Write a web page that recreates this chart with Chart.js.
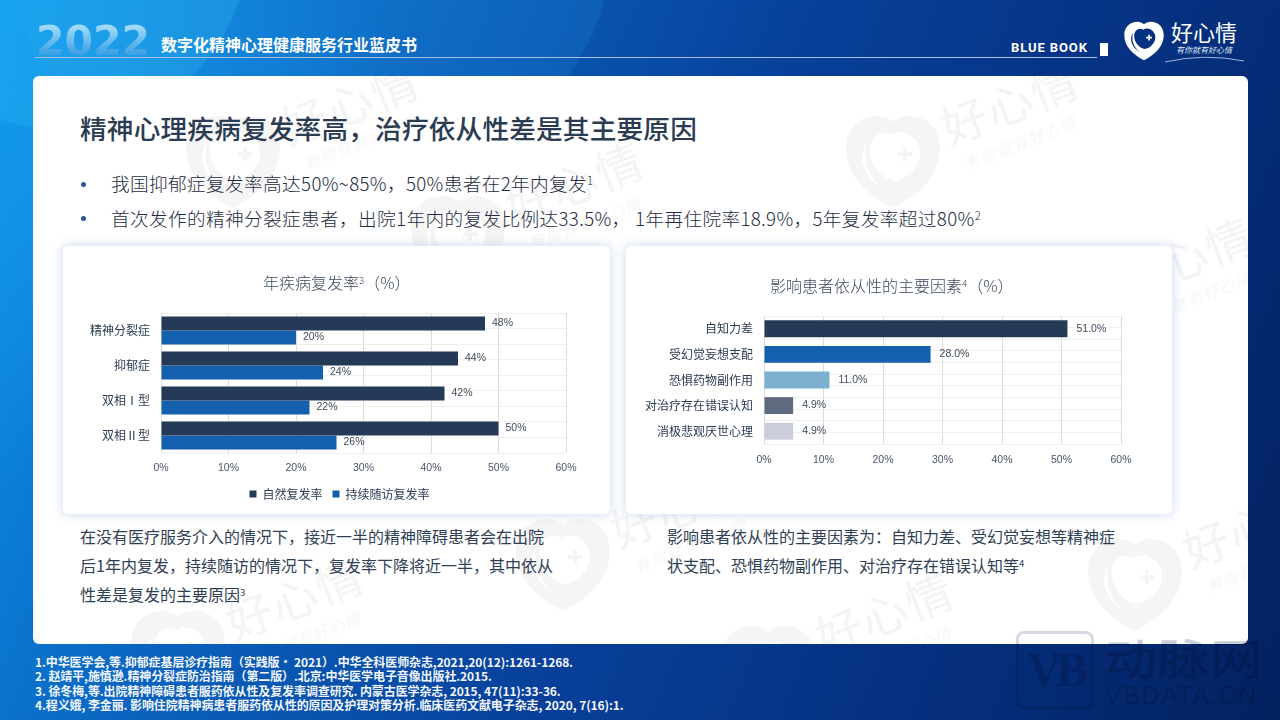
<!DOCTYPE html>
<html lang="zh-CN">

<head>
    <meta charset="UTF-8">
    <title>精神心理疾病复发率高，治疗依从性差是其主要原因</title>
    <style>
        /* page */
        html, body {
            margin: 0;
            padding: 0;
        }

        body {
            position: relative;
            width: 1280px;
            height: 720px;
            overflow: hidden;
            font-family: "Noto Sans CJK SC", sans-serif;
            color: #2b3b52;
            background:
                radial-gradient(circle 190px at 60px -60px, rgba(60, 200, 250, .22) 99%, rgba(60, 200, 250, 0) 100%),
                radial-gradient(ellipse 300px 230px at 310px -40px, rgba(40, 160, 235, .16) 99%, rgba(40, 160, 235, 0) 100%),
                radial-gradient(ellipse 420px 300px at 40px 190px, rgba(30, 160, 235, .4), rgba(30, 160, 235, 0) 100%),
                linear-gradient(112deg, #0c98ee 0%, #0a62bd 27%, #07409a 52%, #05307f 76%, #03215f 100%);
        }

        .abs {
            position: absolute;
            white-space: nowrap;
        }

        sup {
            font-size: 60%;
            line-height: 0;
            vertical-align: baseline;
            position: relative;
            top: -0.5em;
        }

        .year {
            left: 36px;
            top: 16px;
            font: bold 41px/50px "DejaVu Sans", sans-serif;
            background: linear-gradient(180deg, #a3dcf8 20%, #5fb6ec 55%, #2f96e0 85%);
            -webkit-background-clip: text;
            background-clip: text;
            color: transparent;
        }

        .subtitle {
            left: 161px;
            top: 32px;
            font-size: 16px;
            line-height: 24px;
            font-weight: 700;
            color: #fff;
        }

        .rule {
            left: 35px;
            top: 57px;
            width: 1062px;
            height: 1px;
            background: #a9bfdc;
        }

        .bluebook {
            left: 1011px;
            top: 39px;
            font: bold 13px/18px "Roboto", sans-serif;
            letter-spacing: 0.9px;
            color: #fff;
        }

        .mark {
            left: 1100px;
            top: 43px;
            width: 8px;
            height: 13px;
            background: #fff;
        }

        .logo-text {
            left: 1171px;
            top: 16px;
            font-size: 22px;
            line-height: 30px;
            font-weight: 400;
            color: #fff;
        }

        .logo-sub {
            left: 1176px;
            top: 44px;
            font-size: 8px;
            line-height: 12px;
            font-style: italic;
            color: #dfe8f5;
        }

        /* white panel */
        .panel {
            left: 33px;
            top: 76px;
            width: 1215px;
            height: 568px;
            border-radius: 6px;
            background: #fff;
            overflow: hidden;
        }

        .wm {
            position: absolute;
            width: 260px;
            height: 110px;
            transform: rotate(-21deg);
            transform-origin: 50px 55px;
            color: #f4f4f4;
            white-space: nowrap;
        }

        .wm svg {
            position: absolute;
            left: 0;
            top: 5px;
            width: 100px;
            height: 100px;
            fill: #f5f5f5;
            transform: rotate(21deg);
        }

        .wm b {
            position: absolute;
            left: 108px;
            top: 8px;
            font-size: 46px;
            line-height: 64px;
            font-weight: 400;
            letter-spacing: 2px;
        }

        .wm i {
            position: absolute;
            left: 116px;
            top: 70px;
            font-size: 16px;
            line-height: 24px;
            letter-spacing: 1px;
            color: #f7f7f7;
        }

        .heading {
            left: 80px;
            top: 108px;
            font-size: 26.67px;
            line-height: 40px;
            font-weight: 500;
            letter-spacing: 0.17px;
            color: #2b3b52;
        }

        .bullet {
            font-size: 18.67px;
            line-height: 28px;
            font-weight: 300;
            letter-spacing: 0.35px;
            color: #1e2d42;
        }

        .dot {
            width: 5px;
            height: 5px;
            left: 81px;
            border-radius: 50%;
            background: #2f5597;
        }

        .card {
            position: absolute;
            top: 246px;
            height: 268px;
            border-radius: 6px;
            background: #fff;
            box-shadow: 0 0 8px 3px rgba(150, 175, 225, .3);
        }

        .chart-title {
            position: absolute;
            font-size: 16px;
            line-height: 22px;
            font-weight: 300;
            white-space: nowrap;
            color: #3c4a5e;
        }

        .note {
            font-size: 16px;
            line-height: 29px;
            font-weight: 400;
            color: #2f3f55;
        }

        .refs {
            left: 35px;
            top: 654.5px;
            font-size: 12px;
            line-height: 14.5px;
            font-weight: 700;
            letter-spacing: -0.1px;
            color: #f2f6fc;
        }

        /* corner stamp, darkens both the panel and the blue behind it */
        .vb, .vb-cn, .vb-en {
            mix-blend-mode: multiply;
            color: #c9ced8;
        }

        .vb {
            left: 1016px;
            top: 631px;
            width: 78px;
            height: 78px;
            box-sizing: border-box;
            border: 3px solid #d6dae2;
            border-radius: 8px;
            font: bold 48px/72px "Liberation Serif", serif;
            letter-spacing: -5px;
            text-align: center;
        }

        .vb-cn {
            left: 1104px;
            top: 626px;
            font-size: 53px;
            line-height: 62px;
            font-weight: 500;
            transform: scaleY(.8);
            transform-origin: 0 50%;
        }

        .vb-en {
            left: 1105px;
            top: 680px;
            font: 25px/30px "Liberation Sans", sans-serif;
            letter-spacing: 1.5px;
        }
    </style>
</head>

<body>
    <svg width="0" height="0" style="position:absolute">
        <symbol id="heart" viewBox="0 0 100 100">
            <path fill-rule="evenodd" d="M50 96C22 82 3 62 3 36 3 16 18 4 34 4c7 0 12 2 16 6 4-4 10-6 17-6 16 0 30 12 30 32 0 26-19 46-47 60zM24 30c-11 16-2 36 16 47C22 62 20 44 24 30zM48 23C40 17 24 24 27 42c2 14 14 25 24 27 14-2 27-15 26-30-1-14-18-24-29-16zM60 35h4v5h5v4h-5v5h-4v-5h-5v-4h5z" />
        </symbol>
    </svg>

    <div class="abs year">2022</div>
    <div class="abs subtitle">数字化精神心理健康服务行业蓝皮书</div>
    <div class="abs rule"></div>
    <div class="abs bluebook">BLUE BOOK</div>
    <div class="abs mark"></div>
    <svg class="abs" style="left:1122px;top:20px;fill:#fff" width="44" height="42">
        <use href="#heart" width="44" height="42"></use>
    </svg>
    <div class="abs logo-text">好心情</div>
    <div class="abs logo-sub">有你就有好心情</div>
    <svg class="abs" style="left:1164px;top:54px" width="82" height="10">
        <path d="M1 8Q40 -1 80 7" fill="none" stroke="#9fb6d8" stroke-width="1" />
    </svg>

    <div class="abs panel" id="panel"></div>

    <div class="abs heading">精神心理疾病复发率高，治疗依从性差是其主要原因</div>
    <div class="abs dot" style="top:182px"></div>
    <div class="abs bullet" style="left:111px;top:169px">我国抑郁症复发率高达50%~85%，50%患者在2年内复发<sup>1</sup></div>
    <div class="abs dot" style="top:216px"></div>
    <div class="abs bullet" style="left:111px;top:204px">首次发作的精神分裂症患者，出院1年内的复发比例达33.5%， 1年再住院率18.9%，5年复发率超过80%<sup>2</sup></div>

    <div class="card" style="left:63px;width:547px">
        <canvas id="relapseChart"></canvas>
        <div class="chart-title" style="left:200px;top:25px">年疾病复发率<sup>3</sup>（%）</div>
    </div>
    <div class="card" style="left:626px;width:546px">
        <canvas id="factorChart"></canvas>
        <div class="chart-title" style="left:144px;top:28px">影响患者依从性的主要因素<sup>4</sup>（%）</div>
    </div>

    <div class="abs note" style="left:80px;top:522px">在没有医疗服务介入的情况下，接近一半的精神障碍患者会在出院<br>后1年内复发，持续随访的情况下，复发率下降将近一半，其中依从<br>性差是复发的主要原因<sup>3</sup></div>
    <div class="abs note" style="left:667px;top:522px">影响患者依从性的主要因素为：自知力差、受幻觉妄想等精神症<br>状支配、恐惧药物副作用、对治疗存在错误认知等<sup>4</sup></div>

    <div class="abs refs">1.中华医学会,等.抑郁症基层诊疗指南（实践版· 2021）.中华全科医师杂志,2021,20(12):1261-1268.<br>2. 赵靖平,施慎逊.精神分裂症防治指南（第二版）.北京:中华医学电子音像出版社.2015.<br>3. 徐冬梅,等.出院精神障碍患者服药依从性及复发率调查研究. 内蒙古医学杂志, 2015, 47(11):33-36.<br>4.程义娥, 李金丽. 影响住院精神病患者服药依从性的原因及护理对策分析.临床医药文献电子杂志, 2020, 7(16):1.</div>

    <div class="abs vb">VB</div>
    <div class="abs vb-cn">动脉网</div>
    <div class="abs vb-en">VBDATA.CN</div>

    <script src="https://cdn.jsdelivr.net/npm/chart.js"></script>
    <script>
// left chart
const relapseCategories = ['精神分裂症', '抑郁症', '双相Ⅰ型', '双相Ⅱ型'];
const naturalRelapse = [48, 44, 42, 50];
const followUpRelapse = [20, 24, 22, 26];

// right chart
const factorCategories = ['自知力差', '受幻觉妄想支配', '恐惧药物副作用', '对治疗存在错误认知', '消极悲观厌世心理'];
const factorValues = [51.0, 28.0, 11.0, 4.9, 4.9];

const axisMax = 60;
const axisStep = 10;

const CJK = '"Noto Sans CJK SC", sans-serif';

// page watermark, heart centres in page pixels
const watermarkSpots = [[233, 162], [893, 162], [458, 242], [1068, 317], [563, 565], [1135, 585], [178, 657], [768, 672]];
const panel = document.getElementById('panel');
watermarkSpots.forEach(([x, y]) => {
    const wm = document.createElement('div');
    wm.className = 'wm';
    wm.style.left = (x - 50 - 33) + 'px';
    wm.style.top = (y - 55 - 76) + 'px';
    wm.innerHTML = '<svg><use href="#heart" width="100" height="100"></use></svg><b>好心情</b><i>有你就有好心情</i>';
    panel.appendChild(wm);
});

// Chart.js has no built in value labels, so draw them at the end of each bar
const barValueLabels = {
    id: 'barValueLabels',
    afterDatasetsDraw(chart, args, opts) {
        const ctx = chart.ctx;
        ctx.save();
        ctx.font = '10.5px "Liberation Sans", sans-serif';
        ctx.fillStyle = '#3f4a5a';
        ctx.textAlign = 'left';
        ctx.textBaseline = 'middle';
        chart.data.datasets.forEach((dataset, i) => {
            chart.getDatasetMeta(i).data.forEach((bar, j) => {
                ctx.fillText(opts.format(dataset.data[j]), bar.x + opts.gap, bar.y);
            });
        });
        ctx.restore();
    }
};

// the legend in the reference is not centred on the canvas, nudge it after layout
const legendNudge = {
    id: 'legendNudge',
    afterLayout(chart, args, opts) {
        if (chart.legend && opts.x) {
            chart.legend.left += opts.x;
            chart.legend.right += opts.x;
        }
    }
};

function buildOptions(bandCount, axisWidth, rightPad, topPad, bottomPad, xHeight, tickPad, showLegend, gap, format) {
    return {
        indexAxis: 'y',
        responsive: true,
        maintainAspectRatio: false,
        animation: false,
        layout: { padding: { left: 0, right: rightPad, top: topPad, bottom: bottomPad } },
        scales: {
            x: {
                min: 0,
                max: axisMax,
                afterFit(scale) { scale.height = xHeight; },
                grid: { color: '#dcdcdc', drawTicks: false },
                border: { display: false },
                ticks: {
                    stepSize: axisStep,
                    padding: tickPad,
                    color: '#4a5568',
                    font: { size: 10.5, family: '"Liberation Sans", sans-serif' },
                    callback: value => value + '%'
                }
            },
            y: {
                type: 'category',
                afterFit(scale) { scale.width = axisWidth; },
                grid: { display: false, drawTicks: false },
                border: { display: true, color: '#dcdcdc' },
                ticks: {
                    padding: 11,
                    color: '#2b3b52',
                    autoSkip: false,
                    font: { size: 12, family: CJK }
                }
            },
            // horizontal lines every half band, same as the reference
            bandLines: {
                type: 'linear',
                axis: 'y',
                position: 'right',
                min: 0,
                max: bandCount,
                grid: { color: '#efefef', drawTicks: false },
                border: { display: false },
                ticks: { display: false, stepSize: 0.5 }
            }
        },
        plugins: {
            legend: {
                display: showLegend,
                position: 'bottom',
                labels: {
                    boxWidth: 7,
                    boxHeight: 7,
                    color: '#2b3b52',
                    font: { size: 12, family: CJK }
                }
            },
            tooltip: { enabled: false },
            barValueLabels: { gap: gap, format: format },
            legendNudge: { x: showLegend ? 25 : 0 }
        }
    };
}

new Chart(document.getElementById('relapseChart'), {
    type: 'bar',
    data: {
        labels: relapseCategories,
        datasets: [
            {
                label: '自然复发率',
                data: naturalRelapse,
                backgroundColor: '#243a56',
                categoryPercentage: 0.8,
                barPercentage: 1
            },
            {
                label: '持续随访复发率',
                data: followUpRelapse,
                backgroundColor: '#1560ae',
                categoryPercentage: 0.8,
                barPercentage: 1
            }
        ]
    },
    options: buildOptions(relapseCategories.length, 98, 44, 67, 4, 25, 9, true, 7, value => value + '%'),
    plugins: [barValueLabels, legendNudge]
});

new Chart(document.getElementById('factorChart'), {
    type: 'bar',
    data: {
        labels: factorCategories,
        datasets: [{
            label: '影响因素',
            data: factorValues,
            backgroundColor: ['#243a56', '#1560ae', '#7bb1cf', '#5f6b80', '#cccdda'],
            categoryPercentage: 0.66,
            barPercentage: 1
        }]
    },
    options: buildOptions(factorCategories.length, 138, 51, 70, 46, 24, 10, false, 9, value => value.toFixed(1) + '%'),
    plugins: [barValueLabels, legendNudge]
});
    </script>
</body>

</html>
